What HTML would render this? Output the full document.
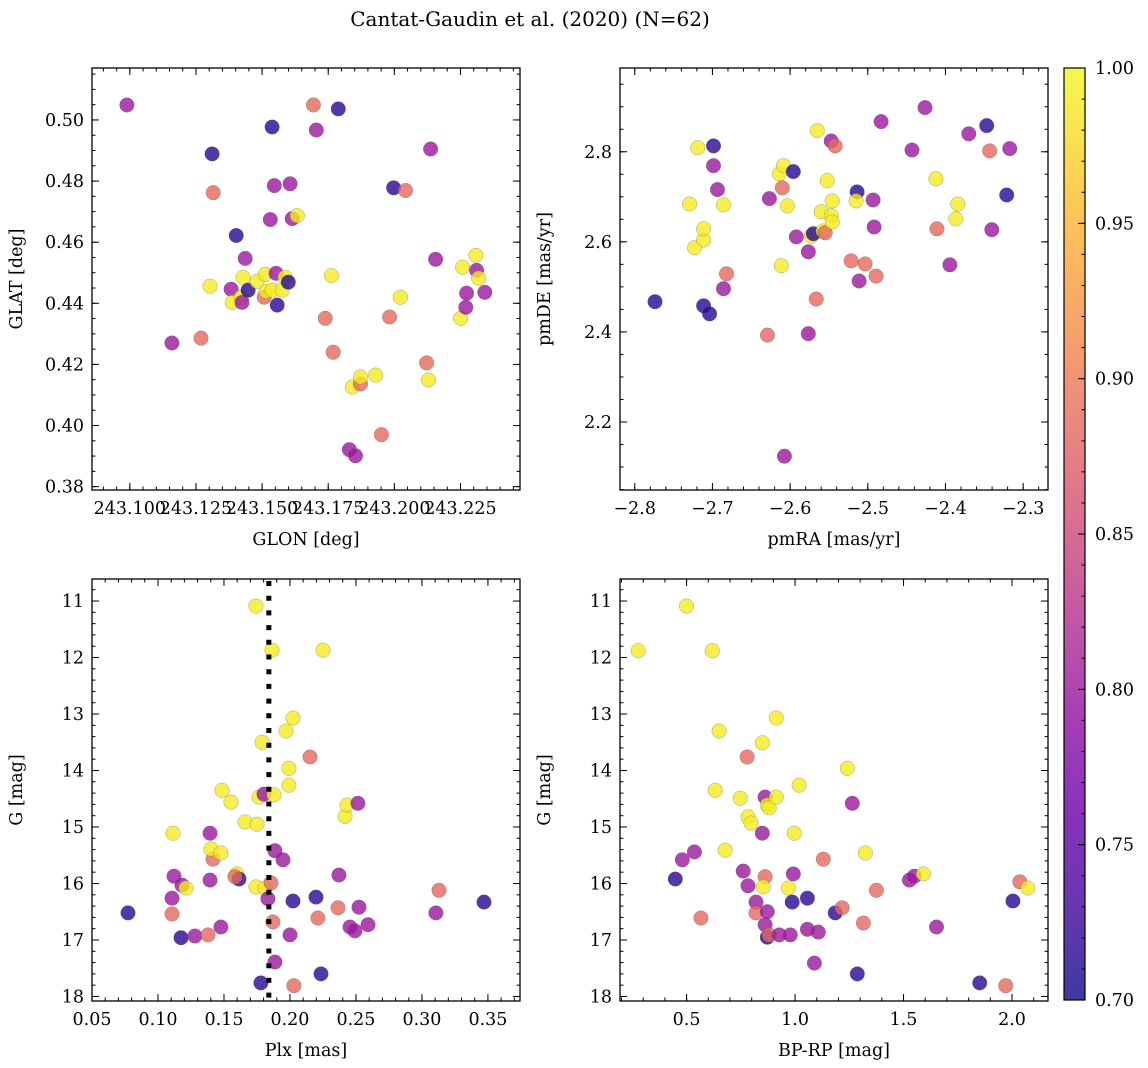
<!DOCTYPE html>
<html><head><meta charset="utf-8">
<style>
html,body{margin:0;padding:0;background:#fff;}
svg{display:block;font-family:"DejaVu Serif","Liberation Serif",serif;}
</style></head>
<body>
<svg id="fig" width="1148" height="1068" viewBox="0 0 1148 1068" xmlns="http://www.w3.org/2000/svg">
<defs>
<linearGradient id="plasma" x1="0" y1="1" x2="0" y2="0">
<stop offset="0" stop-color="#0d0887"/><stop offset="0.1" stop-color="#41049d"/><stop offset="0.2" stop-color="#6a00a8"/><stop offset="0.3" stop-color="#8f0da4"/><stop offset="0.4" stop-color="#b12a90"/><stop offset="0.5" stop-color="#cc4778"/><stop offset="0.6" stop-color="#e16462"/><stop offset="0.7" stop-color="#f2844b"/><stop offset="0.8" stop-color="#fca636"/><stop offset="0.9" stop-color="#fcce25"/><stop offset="1" stop-color="#f0f921"/>
</linearGradient>
</defs>
<text x="530" y="26" font-size="20" text-anchor="middle">Cantat-Gaudin et al. (2020) (N=62)</text>
</svg>
<script>
// ---- Panel 1: GLON / GLAT ----
const p1Lon = [243.0989,243.1159,243.1269,243.1311,243.1315,243.1303,243.1383,243.1387,243.1402,243.1421,243.1424,243.1436,243.1428,243.1447,243.1481,243.1512,243.1508,243.1515,243.1531,243.1538,243.1546,243.1553,243.1557,243.1538,243.1576,243.1587,243.1599,243.1606,243.1614,243.1633,243.1694,243.1705,243.1739,243.1762,243.1769,243.1788,243.1830,243.1841,243.1853,243.1872,243.1872,243.1929,243.1951,243.1982,243.1997,243.2023,243.2042,243.2122,243.2129,243.2137,243.2156,243.2251,243.2258,243.2308,243.2311,243.2319,243.2273,243.2270,243.2342];
const p1Lat = [0.5049,0.4270,0.4286,0.4889,0.4762,0.4456,0.4446,0.4403,0.4622,0.4420,0.4403,0.4547,0.4485,0.4443,0.4472,0.4495,0.4420,0.4439,0.4674,0.4977,0.4785,0.4498,0.4394,0.4443,0.4443,0.4485,0.4469,0.4791,0.4677,0.4687,0.5049,0.4967,0.4351,0.4491,0.4240,0.5036,0.3921,0.4126,0.3901,0.4136,0.4159,0.4165,0.3970,0.4355,0.4778,0.4420,0.4769,0.4205,0.4149,0.4905,0.4544,0.4351,0.4518,0.4557,0.4508,0.4482,0.4433,0.4387,0.4436];
const p1C = [0.80,0.80,0.885,0.715,0.885,0.99,0.80,0.99,0.715,0.99,0.80,0.80,0.99,0.715,0.99,0.99,0.885,0.99,0.80,0.715,0.80,0.80,0.715,0.99,0.99,0.99,0.715,0.80,0.80,0.99,0.885,0.80,0.885,0.99,0.885,0.715,0.80,0.99,0.80,0.885,0.99,0.99,0.885,0.885,0.715,0.99,0.885,0.885,0.99,0.80,0.80,0.99,0.99,0.99,0.80,0.99,0.80,0.80,0.80];
const p1XTicks = [243.100,243.125,243.150,243.175,243.200,243.225];
const p1XLabels = ["243.100","243.125","243.150","243.175","243.200","243.225"];
const p1YTicks = [0.38,0.40,0.42,0.44,0.46,0.48,0.50];
const p1YLabels = ["0.38","0.40","0.42","0.44","0.46","0.48","0.50"];

// ---- Panel 2: pmRA / pmDE ----
const p2RA = [-2.774,-2.7294,-2.723,-2.719,-2.7114,-2.7114,-2.7114,-2.7037,-2.6986,-2.6986,-2.6935,-2.6857,-2.6857,-2.6819,-2.6293,-2.6267,-2.6139,-2.6113,-2.61,-2.6087,-2.6036,-2.6074,-2.5959,-2.592,-2.5766,-2.5766,-2.5728,-2.5702,-2.5664,-2.5651,-2.56,-2.5574,-2.5548,-2.5522,-2.5471,-2.5458,-2.5471,-2.5458,-2.542,-2.5214,-2.5137,-2.515,-2.5112,-2.5035,-2.4932,-2.4919,-2.4893,-2.4829,-2.4431,-2.4264,-2.4123,-2.411,-2.3943,-2.3867,-2.3841,-2.37,-2.3469,-2.343,-2.3404,-2.3212,-2.3173];
const p2DE = [2.467,2.684,2.587,2.809,2.604,2.629,2.458,2.440,2.813,2.769,2.716,2.682,2.496,2.529,2.393,2.696,2.751,2.547,2.720,2.769,2.680,2.124,2.756,2.611,2.578,2.396,2.613,2.618,2.473,2.847,2.667,2.624,2.620,2.736,2.824,2.691,2.658,2.644,2.813,2.558,2.711,2.691,2.513,2.551,2.693,2.633,2.524,2.867,2.804,2.898,2.740,2.629,2.549,2.651,2.684,2.840,2.858,2.802,2.627,2.704,2.807];
const p2C = [0.715,0.99,0.99,0.99,0.99,0.99,0.715,0.715,0.715,0.80,0.80,0.99,0.80,0.885,0.885,0.80,0.99,0.99,0.885,0.99,0.99,0.80,0.715,0.80,0.80,0.80,0.99,0.715,0.885,0.99,0.99,0.99,0.885,0.99,0.80,0.99,0.99,0.99,0.885,0.885,0.715,0.99,0.80,0.885,0.80,0.80,0.885,0.80,0.80,0.80,0.99,0.885,0.80,0.99,0.99,0.80,0.715,0.885,0.80,0.715,0.80];
const p2XTicks = [-2.8,-2.7,-2.6,-2.5,-2.4,-2.3];
const p2XLabels = ["\u22122.8","\u22122.7","\u22122.6","\u22122.5","\u22122.4","\u22122.3"];
const p2YTicks = [2.2,2.4,2.6,2.8];
const p2YLabels = ["2.2","2.4","2.6","2.8"];

// ---- Panel 3: Plx / G ----
const p3Plx = [0.0773,0.1114,0.1121,0.1106,0.1106,0.1174,0.1182,0.1212,0.1280,0.1379,0.1394,0.1394,0.1417,0.1402,0.1477,0.1485,0.1477,0.1553,0.1598,0.1614,0.1583,0.1659,0.1750,0.1742,0.1742,0.1765,0.1788,0.1780,0.1803,0.1811,0.1833,0.1856,0.1871,0.1864,0.1879,0.1886,0.1886,0.1947,0.1970,0.1992,0.1992,0.2023,0.2000,0.2023,0.2030,0.2152,0.2197,0.2212,0.2235,0.2250,0.2364,0.2371,0.2417,0.2432,0.2455,0.2492,0.2515,0.2523,0.2591,0.3106,0.3129,0.3470];
const p3G = [16.52,15.11,15.87,16.26,16.54,16.96,16.03,16.08,16.93,16.91,15.11,15.94,15.57,15.39,15.46,14.35,16.77,14.56,15.83,15.92,15.88,14.91,14.95,11.09,16.06,14.47,13.50,17.76,14.42,16.08,16.27,15.99,16.68,11.87,14.43,15.42,17.39,15.58,13.30,13.96,14.26,13.07,16.91,16.31,17.81,13.76,16.24,16.61,17.60,11.87,16.43,15.85,14.81,14.61,16.77,16.84,14.58,16.42,16.73,16.52,16.12,16.33];
const p3C = [0.715,0.99,0.80,0.80,0.885,0.715,0.80,0.99,0.80,0.885,0.80,0.80,0.885,0.99,0.99,0.99,0.80,0.99,0.99,0.715,0.885,0.99,0.99,0.99,0.99,0.99,0.99,0.715,0.80,0.99,0.80,0.885,0.885,0.99,0.99,0.80,0.80,0.80,0.99,0.99,0.99,0.99,0.80,0.715,0.885,0.885,0.715,0.885,0.715,0.99,0.885,0.80,0.99,0.99,0.80,0.80,0.80,0.80,0.80,0.80,0.885,0.715];
const p3RefPlx = 0.184;
const p3XTicks = [0.05,0.10,0.15,0.20,0.25,0.30,0.35];
const p3XLabels = ["0.05","0.10","0.15","0.20","0.25","0.30","0.35"];
const gTicks = [11,12,13,14,15,16,17,18];
const gLabels = ["11","12","13","14","15","16","17","18"];

// ---- Panel 4: BP-RP / G ----
const p4BR = [0.277,0.500,0.618,0.650,0.632,0.480,0.536,0.448,0.678,0.747,0.779,0.783,0.797,0.761,0.783,0.820,0.820,0.566,0.849,0.862,0.872,0.881,0.913,0.849,0.862,0.853,0.872,0.862,0.872,0.881,0.913,0.927,0.978,0.969,0.992,0.996,0.987,1.019,1.057,1.057,1.089,1.107,1.130,1.185,1.217,1.241,1.264,1.287,1.315,1.324,1.375,1.527,1.550,1.592,1.652,1.851,1.971,2.004,2.036,2.073];
const p4G = [11.88,11.09,11.88,13.30,14.35,15.58,15.44,15.92,15.41,14.49,13.76,14.82,14.93,15.78,16.04,16.33,16.52,16.61,13.51,14.47,14.61,14.66,14.47,15.11,15.88,16.06,16.50,16.73,16.95,16.91,13.07,16.91,16.91,16.08,15.83,15.11,16.33,14.26,16.26,16.81,17.41,16.86,15.57,16.52,16.43,13.96,14.58,17.60,16.70,15.46,16.12,15.94,15.87,15.83,16.77,17.76,17.81,16.31,15.97,16.08];
const p4C = [0.99,0.99,0.99,0.99,0.99,0.80,0.80,0.715,0.99,0.99,0.885,0.99,0.99,0.80,0.80,0.80,0.885,0.885,0.99,0.80,0.99,0.99,0.99,0.80,0.885,0.99,0.80,0.80,0.715,0.885,0.99,0.80,0.80,0.99,0.80,0.99,0.715,0.99,0.715,0.80,0.80,0.80,0.885,0.715,0.885,0.99,0.80,0.715,0.885,0.99,0.885,0.80,0.80,0.99,0.80,0.715,0.885,0.715,0.885,0.99];
const p4XTicks = [0.5,1.0,1.5,2.0];
const p4XLabels = ["0.5","1.0","1.5","2.0"];

const cbTicks = [0.70,0.75,0.80,0.85,0.90,0.95,1.00];
const cbLabels = ["0.70","0.75","0.80","0.85","0.90","0.95","1.00"];

const FS = 17.5;
const NS = "http://www.w3.org/2000/svg";
const svg = document.getElementById("fig");
function mk(tag, attrs, parent){
  const e = document.createElementNS(NS, tag);
  for (const k in attrs) e.setAttribute(k, attrs[k]);
  (parent||svg).appendChild(e);
  return e;
}
const plasmaStops = ["#0d0887","#41049d","#6a00a8","#8f0da4","#b12a90","#cc4778","#e16462","#f2844b","#fca636","#fcce25","#f0f921"];
function hex2rgb(h){return [parseInt(h.substr(1,2),16),parseInt(h.substr(3,2),16),parseInt(h.substr(5,2),16)];}
function plasma(v){
  let t = (v-0.70)/0.30; t=Math.max(0,Math.min(1,t));
  const p = t*10, i = Math.min(9, Math.floor(p)), f = p-i;
  const a = hex2rgb(plasmaStops[i]), b = hex2rgb(plasmaStops[i+1]);
  return "rgb("+a.map((x,k)=>Math.round(x+(b[k]-x)*f)).join(",")+")";
}
function lin(d0,d1,r0,r1){return v => r0 + (v-d0)/(d1-d0)*(r1-r0);}
function minorRange(lo,hi,step){const out=[];const s=Math.ceil(lo/step-1e-9);for(let k=s;k*step<=hi+1e-9;k++)out.push(k*step);return out;}

function panel(name, box, xd, yd, xTicks, xLabels, yTicks, yLabels, xMinor, yMinor, xTitle, yTitle, xs, ys, cs){
  const [L,T,R,B] = box;
  const g = mk("g",{});
  
  
  const sx = lin(xd[0],xd[1],L,R), sy = lin(yd[0],yd[1],B,T);
  const clipId = name+"-clip";
  const cp = mk("clipPath",{id:clipId},g); mk("rect",{x:L,y:T,width:R-L,height:B-T},cp);
  const pts = mk("g",{"clip-path":"url(#"+clipId+")"},g);
  
  
  for (let i=0;i<xs.length;i++){
    const c = mk("circle",{cx:sx(xs[i]).toFixed(1),cy:sy(ys[i]).toFixed(1),r:7.3,fill:plasma(cs[i]),"fill-opacity":0.8,stroke:"#555","stroke-opacity":0.5,"stroke-width":0.5},pts);
    
    
  }
  const tk = mk("g",{stroke:"#000","stroke-width":1},g);
  
  
  const xlo=Math.min(xd[0],xd[1]), xhi=Math.max(xd[0],xd[1]), ylo=Math.min(yd[0],yd[1]), yhi=Math.max(yd[0],yd[1]);
  minorRange(xlo,xhi,xMinor).forEach(v=>{const x=sx(v);mk("line",{x1:x,x2:x,y1:B,y2:B-3.5},tk);mk("line",{x1:x,x2:x,y1:T,y2:T+3.5},tk);});
  minorRange(ylo,yhi,yMinor).forEach(v=>{const y=sy(v);mk("line",{x1:L,x2:L+3.5,y1:y,y2:y},tk);mk("line",{x1:R,x2:R-3.5,y1:y,y2:y},tk);});
  xTicks.forEach((v,i)=>{const x=sx(v);mk("line",{x1:x,x2:x,y1:B,y2:B-7},tk);mk("line",{x1:x,x2:x,y1:T,y2:T+7},tk);
    const t=mk("text",{x:x,y:B+24,"font-size":FS,"text-anchor":"middle"},g);t.textContent=xLabels[i];
    
    });
  yTicks.forEach((v,i)=>{const y=sy(v);mk("line",{x1:L,x2:L+7,y1:y,y2:y},tk);mk("line",{x1:R,x2:R-7,y1:y,y2:y},tk);
    const t=mk("text",{x:L-8,y:y+6,"font-size":FS,"text-anchor":"end"},g);t.textContent=yLabels[i];
    
    });
  const fr = mk("rect",{x:L,y:T,width:R-L,height:B-T,fill:"none",stroke:"#000","stroke-width":1.3},g);
  
  
  const xt = mk("text",{x:(L+R)/2,y:B+55,"font-size":FS,"text-anchor":"middle"},g); xt.textContent=xTitle;
  
  
  const yx = L-70, yy=(T+B)/2;
  const yt = mk("text",{x:yx,y:yy,"font-size":FS,"text-anchor":"middle",transform:"rotate(-90 "+yx+" "+yy+")"},g); yt.textContent=yTitle;
  
  
  return {g,sx,sy};
}

panel("glon-glat-panel",[92,68,520,490],[243.0857,243.2475],[0.3789,0.5170],p1XTicks,p1XLabels,p1YTicks,p1YLabels,0.005,0.005,"GLON [deg]","GLAT [deg]",p1Lon,p1Lat,p1C);
panel("proper-motion-panel",[620,68,1048,490],[-2.819,-2.268],[2.049,2.986],p2XTicks,p2XLabels,p2YTicks,p2YLabels,0.02,0.05,"pmRA [mas/yr]","pmDE [mas/yr]",p2RA,p2DE,p2C);
const P3 = panel("parallax-mag-panel",[92,579,520,1001],[0.05,0.3743],[18.08,10.61],p3XTicks,p3XLabels,gTicks,gLabels,0.01,0.2,"Plx [mas]","G [mag]",p3Plx,p3G,p3C);
const rx = P3.sx(p3RefPlx);
const ref = mk("line",{x1:rx,x2:rx,y1:581,y2:1001,stroke:"#000","stroke-width":5,"stroke-dasharray":"5,9.7"},P3.g);


panel("color-mag-panel",[620,579,1048,1001],[0.193,2.166],[18.08,10.61],p4XTicks,p4XLabels,gTicks,gLabels,0.1,0.2,"BP-RP [mag]","G [mag]",p4BR,p4G,p4C);

// colorbar
const cb = mk("g",{});


const cL=1064,cR=1085,cT=68,cB=1000;
const cs = lin(0.70,1.00,cB,cT);
mk("rect",{x:cL,y:cT,width:cR-cL,height:cB-cT,fill:"url(#plasma)","fill-opacity":0.8},cb);
mk("rect",{x:cL,y:cT,width:cR-cL,height:cB-cT,fill:"none",stroke:"#000","stroke-width":1.2},cb);
minorRange(0.70,1.00,0.01).forEach(v=>{const y=cs(v);mk("line",{x1:cR,x2:cR-3.5,y1:y,y2:y,stroke:"#000"},cb);});
cbTicks.forEach((v,i)=>{const y=cs(v);mk("line",{x1:cR,x2:cR-7,y1:y,y2:y,stroke:"#000"},cb);
  const t=mk("text",{x:cR+10,y:y+6,"font-size":FS},cb);t.textContent=cbLabels[i];
  
  });
</script>
</body></html>
